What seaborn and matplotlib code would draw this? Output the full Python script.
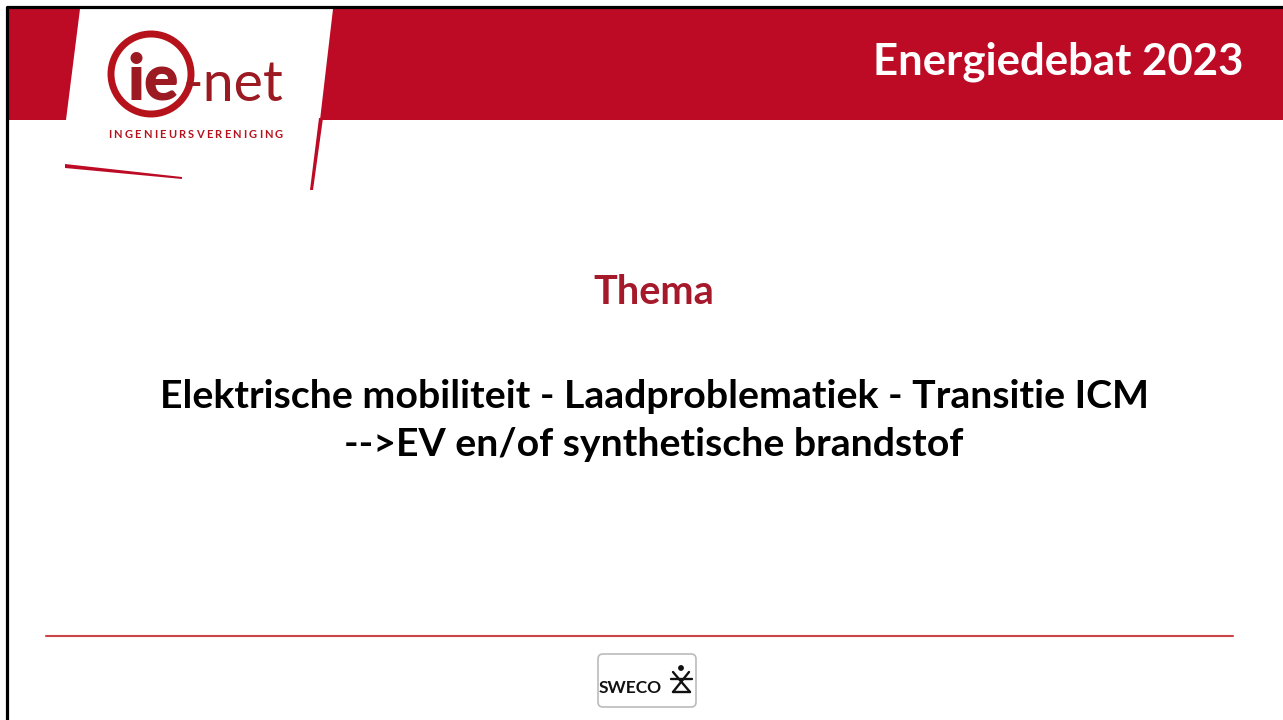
"""
Title slide: ie-net Energiedebat 2023 - Thema
"""

import matplotlib
matplotlib.use("Agg")
import matplotlib.pyplot as plt
import seaborn as sns
from matplotlib.patches import Polygon, Rectangle, Circle, FancyBboxPatch

# slide texts
header_title = "Energiedebat 2023"
section_label = "Thema"
theme_lines = [
    "Elektrische mobiliteit - Laadproblematiek - Transitie ICM",
    "-->EV en/of synthetische brandstof",
]
logo_main = "ie"
logo_suffix = "-net"
logo_tagline = "INGENIEURSVERENIGING"
sponsor = "SWECO"

BAND_RED = "#BD0B25"
DARK_RED = "#A5192B"
LOGO_RED = "#9C1A22"
INK = "#111111"

sns.set_theme(style="white")
plt.rcParams["font.family"] = ["Lato", "DejaVu Sans"]

W, H = 1283, 720
fig = plt.figure(figsize=(W / 100, H / 100), dpi=100)
ax = fig.add_axes([0, 0, 1, 1])
ax.set_xlim(0, W)
ax.set_ylim(H, 0)
ax.axis("off")

# header band with white logo panel
ax.add_patch(Rectangle((8, 9), W - 8, 111, color=BAND_RED, lw=0))
ax.add_patch(Polygon([(80, 9), (333, 9), (320, 120), (66, 120)], closed=True,
                     color="white", lw=0))
ax.add_patch(Polygon([(319, 118), (323, 118), (313, 190), (310, 190)], closed=True,
                     color=BAND_RED, lw=0))
ax.add_patch(Polygon([(65, 164), (182, 177), (182, 179), (65, 168)], closed=True,
                     color=BAND_RED, lw=0))

# frame
ax.plot([7, 7, W], [H, 7, 7], color="black", lw=2.3, solid_capstyle="butt")

# ie-net logo
ax.add_patch(Circle((151, 74), 40, fill=False, ec="#B5121B", lw=5))
ax.text(153, 100, logo_main, fontsize=46, fontweight="heavy", color=LOGO_RED,
        ha="center", va="baseline")
ax.text(182, 101, logo_suffix, fontsize=40, fontweight="normal", color=LOGO_RED,
        ha="left", va="baseline")

# letter-spaced tagline: measure glyphs, spread the spare room evenly
renderer = fig.canvas.get_renderer()
letters = [ax.text(0, 135, ch, fontsize=8, fontweight="bold", color="#B5121B",
                   ha="left", va="center") for ch in logo_tagline]
widths = [t.get_window_extent(renderer).width for t in letters]
gap = ((283 - 108) - sum(widths)) / (len(letters) - 1)
x = 108
for t, w in zip(letters, widths):
    t.set_x(x)
    x += w + gap

# header title
ax.text(1058, 62, header_title, fontsize=31.5, fontweight="bold", color="white",
        ha="center", va="center")

# body
ax.text(654, 292, section_label, fontsize=28.5, fontweight="bold", color=DARK_RED,
        ha="center", va="center")
ax.text(654, 396, theme_lines[0], fontsize=28.3, fontweight="bold", color="black",
        ha="center", va="center")
ax.text(654, 445, theme_lines[1], fontsize=28.3, fontweight="bold", color="black",
        ha="center", va="center")

# footer rule
ax.plot([46, 1233], [636, 636], color="#C84545", lw=1.5)

# sponsor logo
ax.add_patch(FancyBboxPatch((598, 654), 98, 53, boxstyle="round,pad=0,rounding_size=5",
                            fc="white", ec="#BBBBBB", lw=1.2))
ax.text(630, 688, sponsor, fontsize=12.5, fontweight="bold", color=INK,
        ha="center", va="center")
ax.add_patch(Circle((681, 668), 2.2, color=INK))
ax.plot([673, 690], [672, 692], color=INK, lw=1.7)
ax.plot([689, 673], [672, 692], color=INK, lw=1.7)
ax.plot([671, 692], [679, 679], color=INK, lw=1.7)
ax.plot([673, 690], [692, 692], color=INK, lw=1.7)

fig.savefig("out.png", dpi=100)
plt.close(fig)
